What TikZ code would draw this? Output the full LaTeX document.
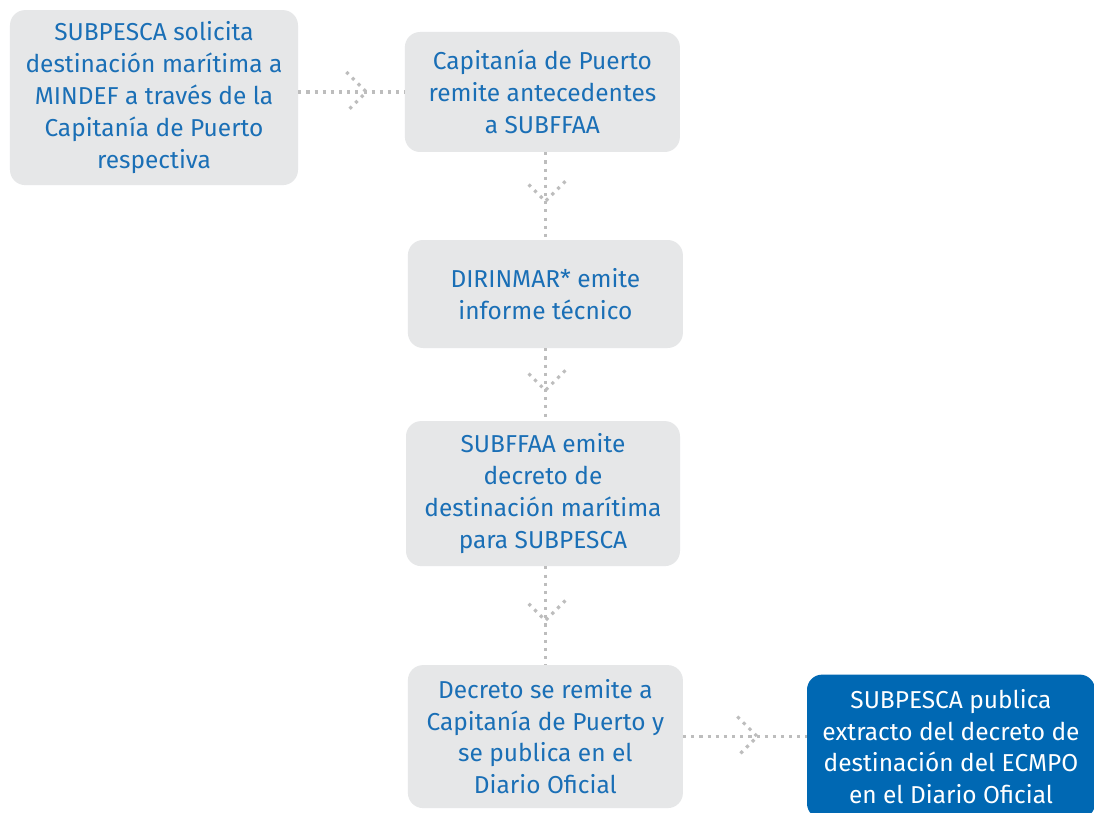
\documentclass[tikz,border=0pt]{standalone}
\usepackage{fontspec}
\setmainfont{Fira Sans}
\usepackage{tikz}
\usetikzlibrary{arrows.meta, positioning, decorations.markings}

\definecolor{boxgray}{HTML}{E6E7E8}
\definecolor{txtblue}{HTML}{1A6FB6}
\definecolor{darkblue}{HTML}{0068B3}
\definecolor{dotgray}{HTML}{BDBDBD}

\tikzset{
    stepbox/.style={rectangle, rounded corners=0.38cm, fill=boxgray, text=txtblue, align=center,
        font=\fontsize{17.4}{22.6}\selectfont, inner sep=0pt},
    lastbox/.style={stepbox, fill=darkblue, text=white},
    dots/.style={dotgray, line width=2.2pt, dash pattern=on 2.2pt off 3.6pt},
    flow/.style={dots, postaction={decorate}, decoration={markings,
        mark=at position #1 with {\draw[dots] (-0.5,0.5) -- (0,0) -- (-0.5,-0.5);}}},
    flow/.default=0.62
}

\begin{document}
\begin{tikzpicture}[node distance=5cm]
        \clip (0,0) rectangle (27.35,-20.325);
        \fill[white] (0,0) rectangle (27.35,-20.325);

        \node[stepbox, minimum width=6.875cm, minimum height=3cm] (2) at (13.56,-2.3)
            {Capitanía de Puerto\\remite antecedentes\\a SUBFFAA};
        \node[stepbox, minimum width=7.2cm, minimum height=4.375cm] (1) [left of=2, node distance=9.71cm, yshift=-0.14cm]
            {SUBPESCA solicita\\destinación marítima a\\MINDEF a través de la\\Capitanía de Puerto\\respectiva};
        \node[stepbox, minimum width=6.875cm, minimum height=2.7cm] (3) [below of=2, node distance=5.05cm, xshift=0.075cm]
            {DIRINMAR* emite\\informe técnico};
        \node[stepbox, minimum width=6.85cm, minimum height=3.625cm] (4) [below of=3, node distance=4.99cm, xshift=-0.06cm]
            {SUBFFAA emite\\decreto de\\destinación marítima\\para SUBPESCA};
        \node[stepbox, minimum width=6.875cm, minimum height=3.575cm] (5) [below of=4, node distance=6.075cm, xshift=0.06cm]
            {Decreto se remite a\\Capitanía de Puerto y\\se publica en el\\Diario Oficial};
        \node[lastbox, minimum width=7.2cm, minimum height=3.6cm] (6) [right of=5, node distance=10.14cm, yshift=-0.25cm]
            {SUBPESCA publica\\extracto del decreto de\\destinación del ECMPO\\en el Diario Oficial};

        % dotted connectors with a dotted chevron
        \draw[flow=0.64] (1.east |- 2.west) -- (2.west);
        \draw[flow=0.56] (2.south -| 3.north) -- (3.north);
        \draw[flow=0.58] (3.south) -- (4.north -| 3.south);
        \draw[flow=0.55] (4.south -| 5.north) -- (5.north);
        \draw[flow=0.60] (5.east) -- (6.west |- 5.east);
\end{tikzpicture}
\end{document}
